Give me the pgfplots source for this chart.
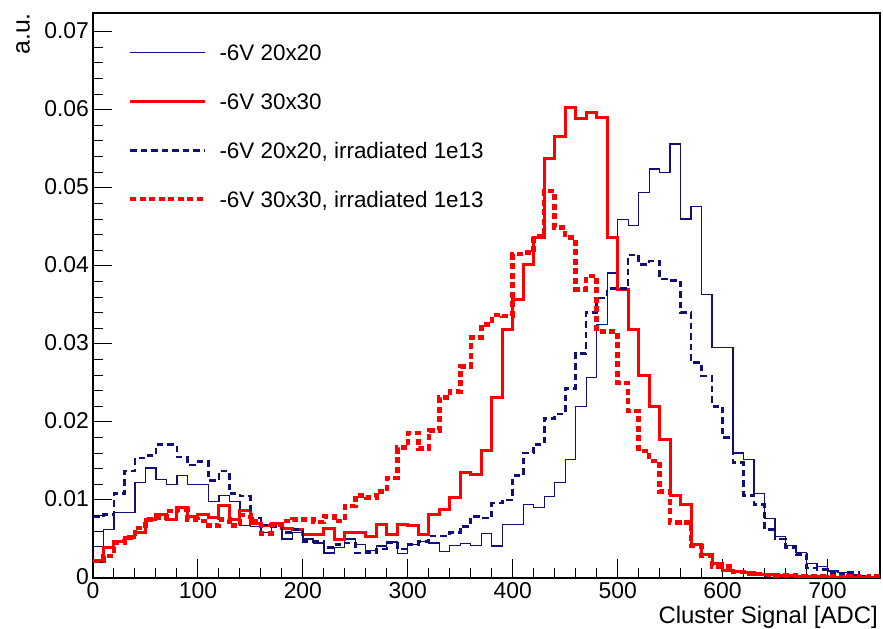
\documentclass[border=0pt]{standalone}
\usepackage{fontspec}
\setmainfont{Liberation Sans}
\usepackage{pgfplots}
\usepackage{pgfplotstable}
\pgfplotsset{compat=1.18}
\definecolor{navy}{RGB}{16,16,120}

\pgfplotstableread{
x   bs     rs     bd     rd
0   0.0040 0.0022 0.0078 0.0022
10  0.0062 0.0039 0.0081 0.0028
20  0.0084 0.0047 0.0108 0.0045
30  0.0084 0.0052 0.0137 0.0052
40  0.0122 0.0058 0.0154 0.0064
50  0.0141 0.0075 0.0157 0.0075
60  0.0126 0.0081 0.0171 0.0077
70  0.0120 0.0075 0.0171 0.0086
80  0.0131 0.0090 0.0155 0.0088
90  0.0120 0.0079 0.0145 0.0075
100 0.0120 0.0081 0.0149 0.0073
110 0.0098 0.0077 0.0125 0.0067
120 0.0106 0.0093 0.0137 0.0075
130 0.0098 0.0075 0.0108 0.0067
140 0.0067 0.0086 0.0105 0.0081
150 0.0066 0.0070 0.0077 0.0073
160 0.0058 0.0067 0.0068 0.0057
170 0.0069 0.0070 0.0066 0.0068
180 0.0050 0.0063 0.0058 0.0073
190 0.0058 0.0062 0.0062 0.0075
200 0.0050 0.0056 0.0047 0.0075
210 0.0045 0.0056 0.0047 0.0072
220 0.0032 0.0064 0.0039 0.0079
230 0.0039 0.0049 0.0043 0.0073
240 0.0050 0.0058 0.0045 0.0092
250 0.0043 0.0058 0.0032 0.0106
260 0.0035 0.0053 0.0033 0.0103
270 0.0041 0.0069 0.0037 0.0111
280 0.0046 0.0056 0.0045 0.0128
290 0.0031 0.0069 0.0037 0.0167
300 0.0043 0.0067 0.0043 0.0186
310 0.0047 0.0056 0.0047 0.0166
320 0.0045 0.0081 0.0054 0.0189
330 0.0034 0.0088 0.0054 0.0231
340 0.0042 0.0103 0.0058 0.0239
350 0.0044 0.0135 0.0066 0.0271
360 0.0042 0.0133 0.0079 0.0308
370 0.0057 0.0163 0.0077 0.0325
380 0.0041 0.0231 0.0096 0.0337
390 0.0069 0.0318 0.0100 0.0336
400 0.0069 0.0357 0.0131 0.0415
410 0.0094 0.0402 0.0160 0.0417
420 0.0090 0.0436 0.0171 0.0438
430 0.0104 0.0537 0.0204 0.0496
440 0.0122 0.0566 0.0210 0.0449
450 0.0152 0.0603 0.0243 0.0436
460 0.0220 0.0589 0.0288 0.0370
470 0.0257 0.0596 0.0340 0.0387
480 0.0325 0.0590 0.0359 0.0316
490 0.0391 0.0436 0.0371 0.0316
500 0.0459 0.0370 0.0371 0.0250
510 0.0452 0.0319 0.0414 0.0214
520 0.0494 0.0259 0.0402 0.0163
530 0.0524 0.0220 0.0406 0.0150
540 0.0520 0.0178 0.0383 0.0111
550 0.0556 0.0106 0.0381 0.0071
560 0.0460 0.0094 0.0340 0.0071
570 0.0476 0.0043 0.0276 0.0041
580 0.0363 0.0030 0.0259 0.0028
590 0.0295 0.0019 0.0220 0.0015
600 0.0295 0.0010 0.0180 0.0015
610 0.0160 0.0008 0.0148 0.0008
620 0.0152 0.0007 0.0106 0.0005
630 0.0108 0.0005 0.0094 0.0005
640 0.0076 0.0004 0.0062 0.0004
650 0.0053 0.0003 0.0050 0.0003
660 0.0042 0.0003 0.0039 0.0003
670 0.0033 0.0002 0.0030 0.0002
680 0.0019 0.0002 0.0013 0.0002
690 0.0015 0.0002 0.0011 0.0002
700 0.0009 0.0001 0.0007 0.0002
710 0.0007 0.0001 0.0005 0.0001
720 0.0004 0.0001 0.0007 0.0002
730 0.0003 0.0001 0.0002 0.0001
740 0.0002 0.0001 0.0003 0.0002
750 0.0002 0.0001 0.0003 0.0002
}\hist

\begin{document}
\begin{tikzpicture}
\begin{axis}[
  at={(0,0)}, anchor=south west,
  scale only axis, width=787bp, height=565bp,
  xmin=0, xmax=750, ymin=0, ymax=0.0724,
  axis line style={line width=1.1bp},
  tick align=inside,
  xtick pos=lower, ytick pos=left,
  xtick={0,100,200,300,400,500,600,700},
  minor x tick num=4,
  ytick={0,0.01,0.02,0.03,0.04,0.05,0.06,0.07},
  yticklabels={0,0.01,0.02,0.03,0.04,0.05,0.06,0.07},
  minor y tick num=4,
  scaled y ticks=false,
  major tick length=19bp, minor tick length=10bp,
  every tick/.style={black, line width=1bp},
  /pgf/number format/assume math mode=true,
  tick label style={font=\fontsize{23}{27}\selectfont},
  yticklabel style={xshift=-0.5bp, yshift=1bp},
  xticklabel style={yshift=-0.5bp},
  legend cell align=left,
  legend image code/.code={\draw[#1] (0bp,0bp) -- (75bp,0bp);},
  legend style={at={(rel axis cs:0,1)}, anchor=north west,
    xshift=35bp, yshift=-31bp, draw=none, fill=none,
    inner sep=0pt, outer sep=0pt, row sep=32.5bp,
    font=\fontsize{22.5}{26}\selectfont,
    nodes={inner sep=0pt, text height=16.5bp, text depth=0bp},
    /tikz/every odd column/.append style={column sep=12bp}},
]
\addplot[const plot, navy, line width=1.3bp] table[x=x, y=bs] {\hist};
\addlegendentry{-6V 20x20}
\addplot[const plot, red, line width=3bp] table[x=x, y=rs] {\hist};
\addlegendentry{-6V 30x30}
\addplot[const plot, navy, line width=2.6bp, dash pattern=on 6.5bp off 4bp] table[x=x, y=bd] {\hist};
\addlegendentry{-6V 20x20, irradiated 1e13}
\addplot[const plot, red, line width=4.5bp, dash pattern=on 6bp off 3.5bp] table[x=x, y=rd] {\hist};
\addlegendentry{-6V 30x30, irradiated 1e13}
\end{axis}
\node[rotate=90, anchor=north east, inner sep=0pt, font=\fontsize{25}{29}\selectfont] at (-77bp,565bp) {a.u.};
\node[anchor=base east, inner sep=0pt, font=\fontsize{24}{28}\selectfont] at (785bp,-45bp) {Cluster Signal [ADC]};
\pgfresetboundingbox
\path[use as bounding box] (-93bp,-51bp) rectangle (790bp,578bp);
\end{tikzpicture}
\end{document}
